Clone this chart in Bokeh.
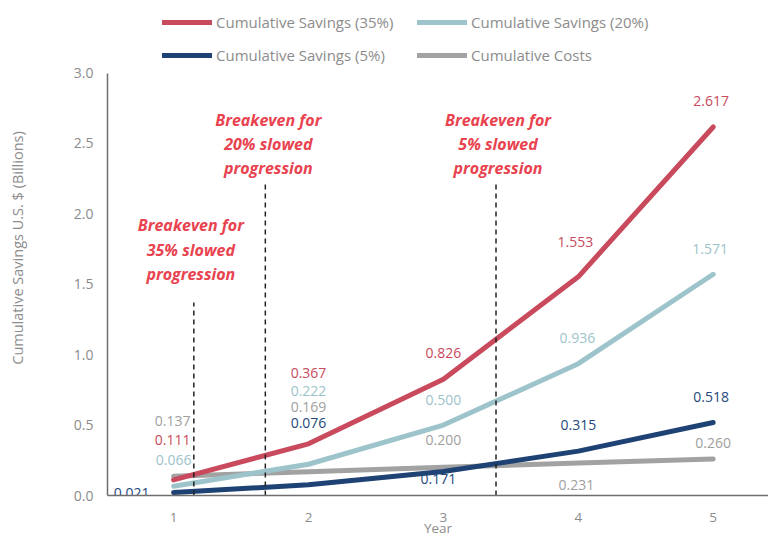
from bokeh.plotting import figure
from bokeh.models import ColumnDataSource, Legend, LegendItem, Range1d, FixedTicker, PrintfTickFormatter
from bokeh.core.properties import value
from bokeh.embed import file_html
from bokeh.resources import INLINE

years = [1, 2, 3, 4, 5]
sav35 = [0.111, 0.367, 0.826, 1.553, 2.617]
sav20 = [0.066, 0.222, 0.500, 0.936, 1.571]
sav5 = [0.021, 0.076, 0.171, 0.315, 0.518]
costs = [0.137, 0.169, 0.200, 0.231, 0.260]
y_ticks = [0, 0.5, 1.0, 1.5, 2.0, 2.5, 3.0]

breakeven_x = [1.15, 1.68, 3.39]
breakeven_top = [1.37, 2.22, 2.22]
breakeven_text = ["Breakeven for\n35% slowed\nprogression",
                  "Breakeven for\n20% slowed\nprogression",
                  "Breakeven for\n5% slowed\nprogression"]

names = ["Cumulative Savings (35%)", "Cumulative Savings (20%)",
         "Cumulative Savings (5%)", "Cumulative Costs"]

# styles
line_colors = ["#c94a5c", "#9dc4ca", "#1f4274", "#a2a2a2"]
text_colors = ["#c94a5c", "#9dc4ca", "#24487a", "#a0a0a0"]
label_xoff = [[-1, 0, 0, -3, -2], [0, 0, 0, -1, -3], [-42, 0, -5, 0, -2], [-1, 0, 0, -2, 0]]
label_yoff = [[-40, -71, -26, -35, -26], [-26, -73, -25, -26, -25], [0, -62, 8, -26, -26], [-55, -65, -27, 22, -16]]

FONT = "Open Sans"
# top of the range leaves room (about 72px) above 3.0 for the legend
p = figure(width=768, height=539, output_backend="svg", toolbar_location=None,
           x_range=Range1d(0.51, 5.41), y_range=Range1d(0, 3.515),
           min_border_left=107, min_border_right=0, min_border_top=0, min_border_bottom=0)
p.outline_line_color = None
p.grid.grid_line_color = None
p.background_fill_color = "white"

series = [sav35, sav20, sav5, costs]
rmap = {}
for i in [3, 2, 1, 0]:
    rmap[i] = p.line(years, series[i], line_color=line_colors[i], line_width=5, line_cap="round")

for i in range(4):
    src = ColumnDataSource(dict(x=years, y=series[i],
                                t=["%.3f" % v for v in series[i]],
                                xo=label_xoff[i], yo=label_yoff[i]))
    p.text(x="x", y="y", text="t", x_offset="xo", y_offset="yo", source=src,
           text_color=text_colors[i], text_font=value(FONT), text_font_size="14px",
           text_align="center", text_baseline="middle")

# breakeven dashed lines
zeros = [0] * len(breakeven_x)
p.segment(x0=breakeven_x, y0=zeros, x1=breakeven_x, y1=breakeven_top,
          line_color="#222222", line_width=1.5, line_dash="5 4")

tsrc = ColumnDataSource(dict(x=breakeven_x, y=breakeven_top, t=breakeven_text,
                             xo=[-3, 3, 2], yo=[-53, -39, -39]))
p.text(x="x", y="y", text="t", x_offset="xo", y_offset="yo", source=tsrc,
       text_color="#e8434f", text_font=value(FONT), text_font_size="16px",
       text_font_style="bold italic", text_align="center", text_baseline="middle",
       text_line_height=1.1)

# axes
for ax in (p.xaxis[0], p.yaxis[0]):
    ax.axis_line_color = "#6e6e6e"
    ax.axis_line_width = 1.5
    ax.major_tick_line_color = None
    ax.minor_tick_line_color = None
    ax.major_tick_out = 0
    ax.major_tick_in = 0
    ax.major_label_text_color = "#8c8c8c"
    ax.major_label_text_font = FONT
    ax.major_label_text_font_size = "14px"
    ax.axis_label_text_color = "#8c8c8c"
    ax.axis_label_text_font = FONT
    ax.axis_label_text_font_size = "14.5px"
    ax.axis_label_text_font_style = "normal"

p.xaxis.ticker = FixedTicker(ticks=years)
p.xaxis.major_label_standoff = 17
p.xaxis.major_label_text_font_size = "13.5px"
p.xaxis.axis_label = "Year"
p.xaxis.axis_label_text_font_size = "13.5px"
p.xaxis.axis_label_standoff = -6
p.yaxis.ticker = FixedTicker(ticks=y_ticks)
p.yaxis.bounds = (y_ticks[0], y_ticks[-1])
p.yaxis.formatter = PrintfTickFormatter(format="%.1f")
p.yaxis.major_label_standoff = 14
p.yaxis.axis_label = "Cumulative Savings U.S. $ (Billions)"
p.yaxis.axis_label_standoff = 44

legend = Legend(items=[LegendItem(label=names[i], renderers=[rmap[i]]) for i in range(4)],
                ncols=2, orientation="horizontal", location=(55, 429),
                glyph_width=50, glyph_height=12, label_width=190, label_standoff=4,
                label_text_font=FONT, label_text_font_size="15px",
                label_text_color="#8c8c8c", spacing=11, padding=0, margin=0,
                border_line_color=None, background_fill_alpha=0,
                label_height=22)
p.add_layout(legend, "center")

open("out.html", "w").write(file_html(p, INLINE))
